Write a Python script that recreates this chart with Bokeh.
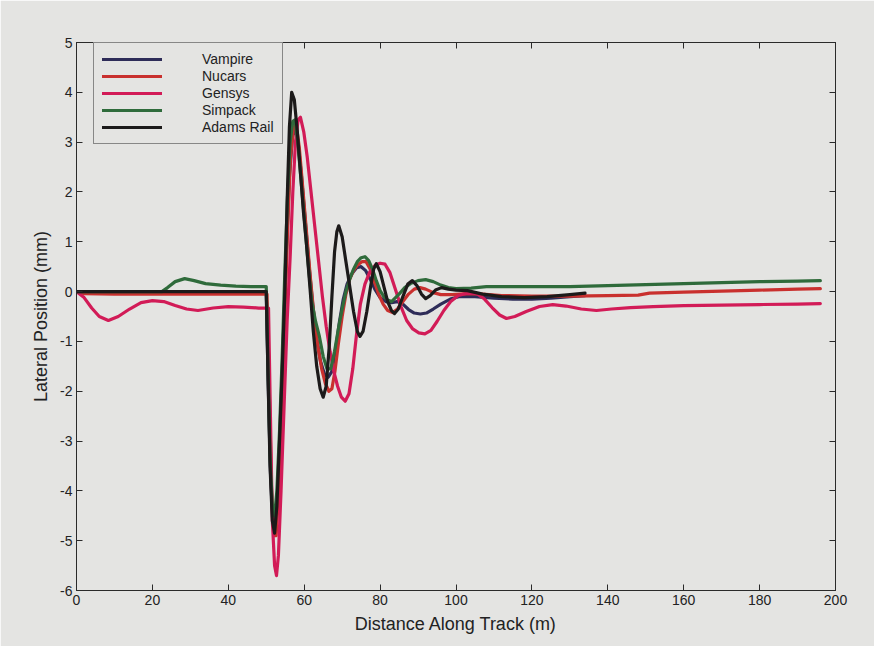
from bokeh.plotting import figure
from bokeh.models import LinearAxis, Legend, LegendItem, FixedTicker, Range1d
from bokeh.embed import file_html
from bokeh.resources import INLINE

# Lateral position of the wheelset along the track, per simulation package
vampire_x = [0, 10, 20, 30, 40, 50.0, 50.5, 51.1, 51.7, 52.3, 53.0, 53.7, 54.5, 55.3, 56.1,
             56.9, 57.6, 58.4, 59.3, 60.3, 61.3, 62.3, 63.3, 64.3, 65.3, 66.3, 67.3, 68.3,
             69.3, 70.3, 71.3, 72.5, 73.8, 75.0, 76.2, 77.4, 78.6, 80.0, 81.5, 83.0, 84.5,
             86.0, 87.5, 89.0, 90.6, 92.2, 94.0, 96.0, 98.5, 101, 105, 110, 115, 120, 125,
             130, 134]
vampire_y = [0, 0, 0, 0, 0, 0, -1.8, -3.6, -4.6, -4.75, -4.1, -2.8, -1.0, 0.8, 2.3,
             3.1, 3.3, 3.0, 2.3, 1.4, 0.5, -0.3, -0.95, -1.4, -1.65, -1.72, -1.6, -1.15,
             -0.6, -0.15, 0.15, 0.35, 0.48, 0.5, 0.42, 0.25, 0.05, -0.12, -0.2, -0.22, -0.2,
             -0.25, -0.36, -0.43, -0.45, -0.43, -0.35, -0.25, -0.15, -0.1, -0.1, -0.13, -0.15, -0.15, -0.13,
             -0.1, -0.08]

nucars_x = [0, 2, 10, 20, 30, 40, 48, 50.2, 50.8, 51.4, 52.0, 52.6, 53.3, 54.0, 54.8,
            55.6, 56.4, 57.2, 57.9, 58.7, 59.6, 60.6, 61.6, 62.6, 63.6, 64.6, 65.6, 66.5,
            67.3, 68.1, 69.0, 70.0, 71.0, 72.0, 73.0, 74.0, 75.2, 76.3, 77.4, 78.5, 79.6,
            80.8, 82.0, 83.3, 84.6, 86.0, 87.5, 89.0, 90.5, 92.0, 94.0, 96.0, 99, 103, 107,
            112, 120, 130, 140, 148, 151, 160, 170, 180, 190, 196]
nucars_y = [0, -0.04, -0.05, -0.05, -0.05, -0.05, -0.05, -0.05, -2.0, -4.0, -4.9, -4.9, -4.0, -2.5, -0.7,
            1.2, 2.7, 3.3, 3.35, 2.9, 2.1, 1.2, 0.3, -0.5, -1.1, -1.55, -1.85, -2.0,
            -1.95, -1.6, -1.05, -0.5, -0.05, 0.25, 0.42, 0.53, 0.6, 0.6, 0.45, 0.2, -0.05,
            -0.25, -0.38, -0.42, -0.35, -0.2, -0.05, 0.05, 0.08, 0.05, -0.02, -0.06, -0.06, -0.04, -0.05,
            -0.08, -0.09, -0.09, -0.08, -0.07, -0.03, -0.01, 0.01, 0.03, 0.05, 0.06]

gensys_x = [0, 2, 4, 6, 8.4, 11, 14, 17, 20, 23, 26, 29, 32, 36, 40, 44, 48, 50.6, 51.1,
            51.6, 52.2, 52.7, 53.2, 53.9, 54.7, 55.5, 56.3, 57.0, 57.7, 58.4, 59.0, 59.9,
            60.8, 61.8, 62.8, 63.8, 64.8, 65.8, 66.8, 67.8, 68.8, 69.8, 70.8, 71.8, 72.8,
            73.8, 74.8, 76.0, 77.3, 78.7, 80.0, 81.3, 82.6, 84.0, 85.5, 87.0, 88.6, 90.2,
            91.8, 93.4, 95.0, 96.8, 98.6, 100.6, 103, 105.5, 107.5, 109.5, 111.5, 113.3,
            115.5, 118.5, 122, 125.5, 129, 133, 137, 141, 146, 152, 160, 170, 180, 190, 196]
gensys_y = [0, -0.12, -0.33, -0.5, -0.58, -0.5, -0.35, -0.22, -0.18, -0.2, -0.28, -0.35, -0.38, -0.33, -0.3, -0.31, -0.33, -0.33, -2.5,
            -4.6, -5.5, -5.7, -5.3, -4.0, -2.3, -0.6, 0.7, 2.0, 3.0, 3.45, 3.5, 3.2,
            2.7, 2.0, 1.3, 0.6, -0.1, -0.7, -1.2, -1.6, -1.9, -2.12, -2.2, -2.05, -1.55,
            -0.85, -0.25, 0.15, 0.4, 0.53, 0.57, 0.55, 0.38, 0.05, -0.3, -0.58, -0.75, -0.83,
            -0.85, -0.78, -0.6, -0.38, -0.2, -0.08, -0.03, -0.04, -0.15, -0.32, -0.47, -0.54,
            -0.5, -0.4, -0.3, -0.26, -0.29, -0.35, -0.38, -0.35, -0.32, -0.3, -0.28, -0.27, -0.26, -0.25, -0.24]

simpack_x = [0, 10, 20, 22.5, 24, 26, 28.5, 31, 34, 38, 42, 46, 50.0, 50.5, 51.0, 51.6,
             52.2, 52.8, 53.5, 54.2, 54.9, 55.6, 56.3, 57.0, 57.6, 58.3, 59.1, 60.0, 61.0,
             62.0, 63.0, 64.0, 65.0, 66.0, 67.0, 68.0, 69.0, 70.0, 71.0, 72.0, 73.0, 74.0,
             75.0, 76.0, 77.0, 78.0, 79.0, 80.0, 81.0, 82.0, 83.0, 85.0, 86.5, 88.0, 90.0,
             92.0, 94.0, 96.0, 98.0, 100, 104, 108, 115, 122, 130, 140, 150, 160, 170, 180,
             190, 196]
simpack_y = [0, 0, 0, 0.0, 0.08, 0.2, 0.26, 0.22, 0.16, 0.13, 0.11, 0.1, 0.1, -1.6, -3.3, -4.3,
             -4.5, -4.0, -2.8, -1.3, 0.4, 1.9, 3.0, 3.42, 3.45, 3.0, 2.3, 1.5, 0.6,
             -0.2, -0.6, -0.9, -1.3, -1.55, -1.55, -1.2, -0.75, -0.35, 0.0, 0.25, 0.45, 0.6,
             0.68, 0.7, 0.62, 0.45, 0.22, 0.02, -0.1, -0.17, -0.2, -0.05, 0.08, 0.16, 0.22,
             0.24, 0.2, 0.13, 0.08, 0.06, 0.07, 0.1, 0.1, 0.1, 0.1, 0.12, 0.14, 0.16, 0.18, 0.2,
             0.21, 0.22]

adams_x = [0, 10, 20, 30, 40, 50.0, 50.5, 51.0, 51.6, 52.2, 52.8, 53.5, 54.2, 54.9, 55.5,
           56.1, 56.7, 57.4, 58.2, 59.0, 59.8, 60.6, 61.5, 62.4, 63.3, 64.2, 65.0, 65.8,
           66.6, 67.3, 68.0, 68.6, 69.1, 70.0, 71.0, 72.0, 73.0, 74.0, 74.7, 75.5, 76.5,
           77.5, 78.3, 79.0, 80.0, 81.0, 82.0, 83.0, 83.8, 84.8, 86.0, 87.3, 88.5, 89.7,
           90.9, 92.0, 93.2, 94.6, 96.2, 98.0, 100, 103, 107, 112, 118, 124, 130, 134]
adams_y = [0, 0, 0, 0, 0, 0, -1.8, -3.5, -4.6, -4.85, -4.3, -3.0, -1.6, 0.0, 1.8,
           3.3, 4.0, 3.85, 3.2, 2.4, 1.6, 0.95, 0.1, -0.8, -1.5, -1.95, -2.12, -1.9,
           -1.1, -0.1, 0.8, 1.2, 1.32, 1.1, 0.6, 0.1, -0.4, -0.8, -0.9, -0.8, -0.4,
           0.1, 0.45, 0.56, 0.4, 0.1, -0.2, -0.38, -0.44, -0.35, -0.1, 0.15, 0.22, 0.12,
           -0.05, -0.14, -0.08, 0.03, 0.08, 0.05, 0.03, 0.02, -0.05, -0.1, -0.12, -0.1, -0.06, -0.03]

series_names = ["Vampire", "Nucars", "Gensys", "Simpack", "Adams Rail"]
series_colors = ["#2e2c58", "#c9302e", "#d21b57", "#2f6b3b", "#1c1a1a"]
series_data = [(vampire_x, vampire_y), (nucars_x, nucars_y), (gensys_x, gensys_y),
               (simpack_x, simpack_y), (adams_x, adams_y)]

x_ticks = [0, 20, 40, 60, 80, 100, 120, 140, 160, 180, 200]
y_ticks = [-6, -5, -4, -3, -2, -1, 0, 1, 2, 3, 4, 5]

paper = "#e4e4e2"
font = "Liberation Sans"

p = figure(width=874, height=646, x_range=Range1d(0, 200), y_range=Range1d(-6, 5),
           output_backend="svg", toolbar_location=None,
           min_border_left=76, min_border_right=39, min_border_top=42, min_border_bottom=56,
           background_fill_color=paper, border_fill_color=paper)
p.grid.visible = False
p.outline_line_color = "#2a2a2a"
p.outline_line_width = 1

renderers = []
for (xs, ys), color in zip(series_data, series_colors):
    r = p.line(xs, ys, line_color=color, line_width=3.2, line_join="round", line_cap="round")
    renderers.append(r)

def style_axis(ax, ticks, show_labels):
    ax.ticker = FixedTicker(ticks=ticks)
    # plain hyphen-minus on negative tick labels
    ax.major_label_overrides = {t: str(t) for t in ticks}
    ax.major_tick_in = 6
    ax.major_tick_out = 0
    ax.minor_tick_line_color = None
    ax.axis_line_color = "#2a2a2a"
    ax.major_tick_line_color = "#2a2a2a"
    ax.major_label_text_font = font
    ax.major_label_text_font_size = "14px"
    ax.major_label_text_color = "#222222" if show_labels else None
    ax.major_label_standoff = 4

style_axis(p.xaxis[0], x_ticks, True)
style_axis(p.yaxis[0], y_ticks, True)
p.xaxis[0].axis_label = "Distance Along Track (m)"
p.yaxis[0].axis_label = "Lateral Position (mm)"
for ax in (p.xaxis[0], p.yaxis[0]):
    ax.axis_label_text_font = font
    ax.axis_label_text_font_size = "18px"
    ax.axis_label_text_font_style = "normal"
    ax.axis_label_text_color = "#222222"
    ax.axis_label_standoff = 6

top_axis = LinearAxis()
style_axis(top_axis, x_ticks, False)
p.add_layout(top_axis, "above")
right_axis = LinearAxis()
style_axis(right_axis, y_ticks, False)
p.add_layout(right_axis, "right")

legend = Legend(items=[LegendItem(label=n, renderers=[r]) for n, r in zip(series_names, renderers)],
                location=(17, 446), orientation="vertical",
                glyph_width=60, glyph_height=14, label_height=14, spacing=1,
                label_standoff=40, padding=8, margin=0,
                label_text_font=font, label_text_font_size="14px", label_text_color="#222222",
                border_line_color="#2a2a2a", border_line_width=1,
                background_fill_color=paper, background_fill_alpha=1.0)
p.add_layout(legend, "center")

open("out.html", "w").write(file_html(p, INLINE))
